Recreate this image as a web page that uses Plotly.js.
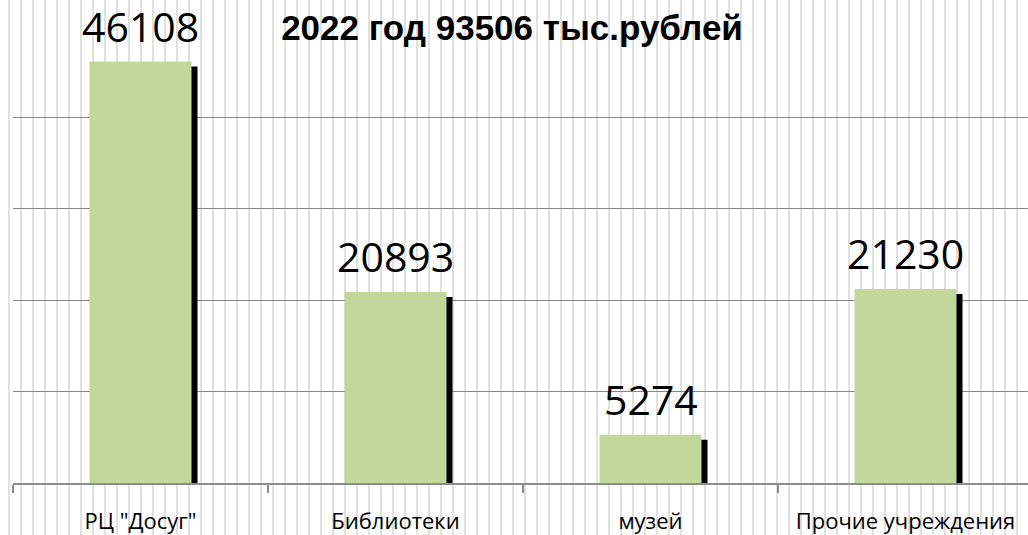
<!DOCTYPE html>
<html>
<head>
<meta charset="utf-8">
<script src="https://cdn.plot.ly/plotly-3.0.1.min.js"></script>
<style>
html, body { margin:0; padding:0; overflow:hidden; width:1028px; height:535px; }
body {
  background-color:#ffffff;
  background-image: repeating-linear-gradient(to right, transparent 0px, transparent 8px, #e0e0e0 8px, #e0e0e0 10px, transparent 10px, transparent 12px);
}
#chart { width:1033px; height:535px; }
</style>
</head>
<body>
<div id="chart"></div>
<script>
const categories = ['РЦ "Досуг"', 'Библиотеки', 'музей', 'Прочие учреждения'];
const values = [46108, 20893, 5274, 21230];
const valueLabels = ['46108', '20893', '5274', '21230'];
const titleText = '2022 год 93506 тыс.рублей';

const plotH = 535 - 26 - 52;
const yMax = 50000;
const pxToY = yMax / plotH;
const barW = 0.4;
const shadowDx = 6 / 255;
const shadowDy = 5 * pxToY;

const shadow = {
  type: 'bar', x: categories, y: values.map(v => v - shadowDy),
  width: barW, offset: -barW / 2 + shadowDx,
  marker: { color: '#000000', line: { width: 0 } },
  hoverinfo: 'skip', showlegend: false
};
const bars = {
  type: 'bar', x: categories, y: values,
  width: barW, offset: -barW / 2,
  marker: { color: '#c4d79b', line: { width: 0 } },
  showlegend: false
};

const annotations = categories.map((c, i) => ({
  x: c, y: values[i], xref: 'x', yref: 'y',
  text: valueLabels[i], showarrow: false,
  yanchor: 'bottom', yshift: 6,
  font: { family: 'Open Sans', size: 41, color: '#000000' }
}));

const layout = {
  width: 1033, height: 535,
  margin: { l: 13, r: 0, t: 26, b: 52 },
  paper_bgcolor: 'rgba(0,0,0,0)', plot_bgcolor: 'rgba(0,0,0,0)',
  barmode: 'overlay',
  title: {
    text: '<b>' + titleText + '</b>',
    x: (512 - 13) / 1020, xref: 'paper', xanchor: 'center',
    y: 1 - 28 / 535, yref: 'container', yanchor: 'middle',
    font: { family: 'Liberation Sans', size: 35, color: '#000000' }
  },
  xaxis: {
    type: 'category', range: [-0.5, 3.5],
    showline: true, linecolor: '#8c8c8c', linewidth: 1.5,
    ticks: 'outside', tickson: 'boundaries', ticklen: 8, tickcolor: '#8c8c8c', tickwidth: 1.5,
    showgrid: false, zeroline: false,
    tickfont: { family: 'Open Sans', size: 22, color: '#000000' },
    ticklabelstandoff: 18
  },
  yaxis: {
    range: [0, yMax], dtick: 10000,
    showgrid: true, gridcolor: '#868686', gridwidth: 1,
    showticklabels: false, zeroline: false, showline: false, ticks: ''
  },
  annotations: annotations
};

Plotly.newPlot('chart', [shadow, bars], layout, { displayModeBar: false, staticPlot: true });
</script>
</body>
</html>
